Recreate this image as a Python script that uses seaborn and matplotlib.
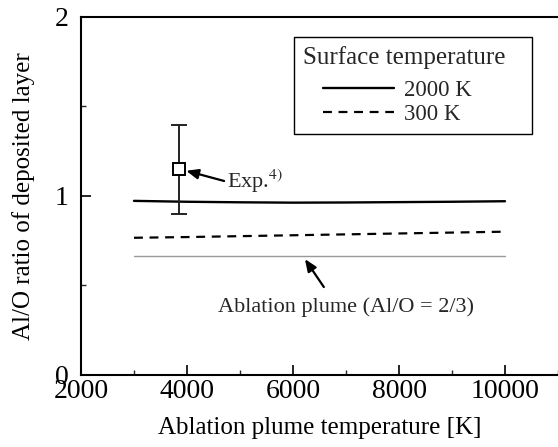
import matplotlib
matplotlib.use("Agg")
import matplotlib.pyplot as plt
import seaborn as sns
import pandas as pd
from matplotlib.ticker import MultipleLocator
from matplotlib.offsetbox import DrawingArea

# Data
plume_T = [3000, 4000, 5000, 6000, 7000, 8000, 9000, 10000]
ratio_2000K = [0.972, 0.967, 0.964, 0.962, 0.963, 0.965, 0.967, 0.970]
ratio_300K = [0.766, 0.770, 0.775, 0.780, 0.785, 0.790, 0.795, 0.800]
plume_ratio = [2/3] * len(plume_T)
exp_T = [3850]
exp_ratio = [1.148]
exp_err_low = [0.25]
exp_err_high = [0.25]
legend_labels = ["2000 K", "300 K"]

sns.set_theme(style="ticks")
plt.rcParams["font.family"] = ["Liberation Serif", "DejaVu Serif"]
plt.rcParams["mathtext.fontset"] = "stix"

fig = plt.figure(figsize=(5.58, 4.47), dpi=100)
ax = fig.add_axes([81/558, 1 - 375/447, 1 - 81/558, (375 - 16.7)/447])

df = pd.DataFrame({"T": plume_T, "r2000": ratio_2000K, "r300": ratio_300K, "plume": plume_ratio})
sns.lineplot(data=df, x="T", y="r2000", ax=ax, color="black", linewidth=1.7, label=legend_labels[0])
sns.lineplot(data=df, x="T", y="r300", ax=ax, color="black", linewidth=1.6, linestyle=(0, (4, 3)), label=legend_labels[1])
sns.lineplot(data=df, x="T", y="plume", ax=ax, color="#999999", linewidth=1.0, legend=False)

ax.errorbar(exp_T, exp_ratio, yerr=[exp_err_low, exp_err_high], fmt="s", mfc="white", mec="black",
            ecolor="#222222", color="black", markersize=9, mew=1.4, elinewidth=1.4, capsize=6, capthick=1.6, zorder=5)

ax.set_xlim(2000, 11000)
ax.set_ylim(0, 2)
ax.xaxis.set_major_locator(MultipleLocator(2000))
ax.xaxis.set_minor_locator(MultipleLocator(1000))
ax.yaxis.set_major_locator(MultipleLocator(1))
ax.yaxis.set_minor_locator(MultipleLocator(0.5))
ax.tick_params(which="major", direction="in", length=7, width=1.2, labelsize=20, colors="black")
ax.tick_params(which="minor", direction="in", length=3.5, width=1.0)
ax.tick_params(axis="x", which="major", pad=3)
ax.tick_params(axis="y", which="major", pad=9)
ax.tick_params(axis="x", which="both", top=False)
for s in ["left", "bottom", "top"]:
    ax.spines[s].set_linewidth(1.5)
    ax.spines[s].set_color("black")
ax.spines["right"].set_visible(False)

ax.set_xlabel("Ablation plume temperature [K]", fontsize=18, labelpad=9, color="black")
ax.set_ylabel("Al/O ratio of deposited layer", fontsize=18, labelpad=14, color="black")

leg = ax.legend(title="Surface temperature", loc="upper left", bbox_to_anchor=(0.447, 0.943),
                borderaxespad=0, fontsize=16.5, title_fontsize=18, frameon=True, fancybox=False,
                edgecolor="black", framealpha=1, handlelength=3.1, labelspacing=0.1, borderpad=0.4,
                handletextpad=0.45, columnspacing=0)
leg.get_frame().set_linewidth(1.0)
leg._legend_box.align = "left"
leg._legend_box.sep = 8
hb = leg._legend_handle_box.get_children()
hb.insert(0, DrawingArea(14, 1))
hb.append(DrawingArea(37, 1))

ax.annotate("", xy=(3985, 1.14), xytext=(4700, 1.083),
            arrowprops=dict(arrowstyle="-|>,head_length=0.6,head_width=0.25", color="black", lw=1.6, shrinkA=0, shrinkB=0))
ax.text(4760, 1.08, "Exp.$^{4)}$", fontsize=16, va="center", ha="left")
ax.annotate("", xy=(6225, 0.647), xytext=(6582, 0.491),
            arrowprops=dict(arrowstyle="-|>,head_length=0.6,head_width=0.25", color="black", lw=1.6, shrinkA=0, shrinkB=0))
ax.text(7000, 0.38, "Ablation plume (Al/O = 2/3)", fontsize=16, va="center", ha="center")

fig.savefig("out.png", dpi=100)
